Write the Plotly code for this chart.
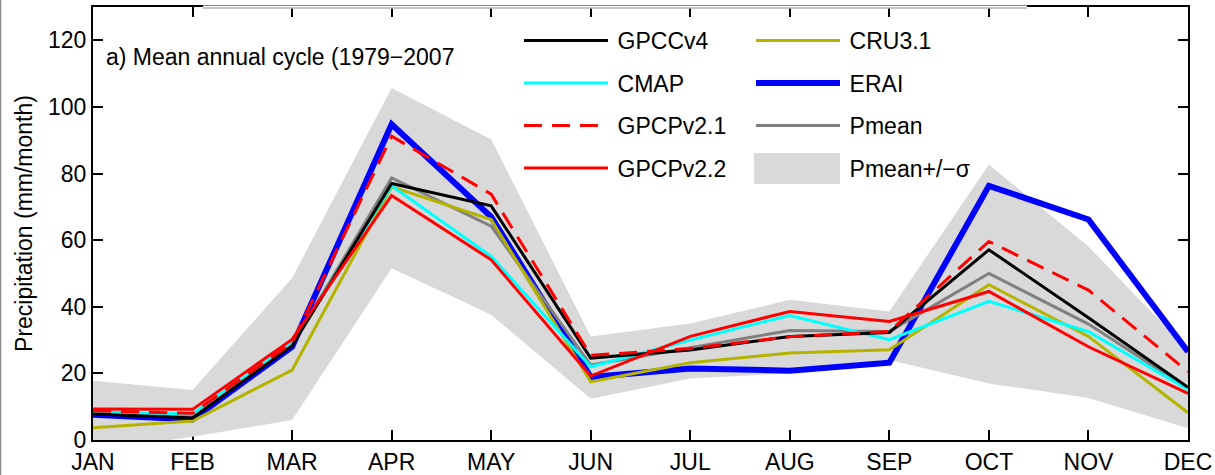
import plotly.graph_objects as go

# Monthly climatology, 1979-2007 (mm/month)
months = ["JAN", "FEB", "MAR", "APR", "MAY", "JUN",
          "JUL", "AUG", "SEP", "OCT", "NOV", "DEC"]
gpcc_v4 = [7.8, 6.6, 28.3, 77.0, 70.3, 24.6, 27.0, 31.1, 32.3, 57.1, 36.7, 15.8]
cmap = [8.3, 7.8, 29.0, 76.3, 55.1, 22.0, 30.0, 37.4, 30.1, 41.6, 32.5, 15.2]
gpcp_v21 = [8.8, 8.0, 29.2, 91.2, 73.8, 25.4, 27.5, 31.0, 32.6, 59.6, 45.0, 20.5]
gpcp_v22 = [9.3, 9.2, 30.2, 73.4, 54.1, 19.2, 31.1, 38.6, 35.6, 44.6, 28.0, 14.0]
cru_31 = [3.7, 5.7, 21.0, 76.0, 66.2, 17.5, 23.2, 26.1, 27.1, 46.6, 31.1, 8.2]
erai = [7.6, 6.2, 28.0, 94.8, 67.0, 18.9, 21.5, 20.8, 23.2, 76.3, 66.2, 26.5]
pmean = [8.5, 7.4, 28.5, 78.7, 64.2, 22.5, 27.7, 32.9, 32.6, 50.0, 34.8, 15.5]
pmean_plus_sigma = [17.8, 15.0, 48.6, 105.7, 90.2, 31.1, 35.0, 42.1, 38.6, 82.7, 58.1, 27.0]
pmean_minus_sigma = [-3.4, 1.0, 6.0, 51.6, 37.6, 12.4, 18.5, 20.0, 24.0, 17.0, 12.6, 3.5]

FONT = "Liberation Sans, Arial, Helvetica, sans-serif"
W, H = 1215, 475
ML, MR, MT, MB = 93, 27, 7, 35
PW, PH = W - ML - MR, H - MT - MB
BAND = "#d9d9d9"


def px_x(p):
    return (p - ML) / PW


def px_y(p):
    return (H - MB - p) / PH


x = list(range(1, 13))
fig = go.Figure()

# spread band: Pmean +/- one standard deviation
fig.add_trace(go.Scatter(
    x=x + x[::-1], y=pmean_plus_sigma + pmean_minus_sigma[::-1],
    fill="toself", fillcolor=BAND, line=dict(width=0, color=BAND),
    mode="lines", name="\u2009Pmean+/\u2212\u03c3", legend="legend2",
    legendgroup="g8", legendrank=8, hoverinfo="skip"))


def add_line(y, name, color, width, legend, rank, dash="solid"):
    fig.add_trace(go.Scatter(
        x=x, y=y, mode="lines", name="\u2009" + name, legend=legend,
        legendgroup="g%d" % rank, legendrank=rank,
        line=dict(color=color, width=width, dash=dash)))


add_line(erai, "ERAI", "#0000ff", 6, "legend2", 6)
add_line(pmean, "Pmean", "#808080", 3, "legend2", 7)
add_line(cru_31, "CRU3.1", "#b3b300", 3, "legend2", 5)
add_line(cmap, "CMAP", "#00ffff", 3, "legend", 2)
add_line(gpcc_v4, "GPCCv4", "#000000", 3, "legend", 1)
add_line(gpcp_v21, "GPCPv2.1", "#ff0000", 3, "legend", 3, dash="18px,10px")
add_line(gpcp_v22, "GPCPv2.2", "#ff0000", 3, "legend", 4)

legend_common = dict(
    font=dict(family=FONT, size=23, color="#000"),
    bgcolor="rgba(255,255,255,0)", borderwidth=0,
    orientation="v", traceorder="grouped", tracegroupgap=9.6,
    itemwidth=84, xanchor="left", yanchor="top", itemclick=False)

fig.update_layout(
    width=W, height=H,
    margin=dict(l=ML, r=MR, t=MT, b=MB),
    paper_bgcolor="white", plot_bgcolor="white",
    font=dict(family=FONT, size=23, color="#000"),
    showlegend=True,
    legend=dict(x=px_x(519), y=px_y(19), **legend_common),
    legend2=dict(x=px_x(751), y=px_y(19), **legend_common),
    xaxis=dict(
        range=[1, 12], tickvals=x, ticktext=months, automargin=False,
        showline=True, linecolor="#000", linewidth=2, mirror="allticks",
        ticks="inside", ticklen=10, tickwidth=1.5, tickcolor="#000",
        showgrid=False, zeroline=False, layer="below traces",
        tickfont=dict(family=FONT, size=23, color="#000")),
    yaxis=dict(
        range=[0, 130], tickvals=[0, 20, 40, 60, 80, 100, 120],
        automargin=False,
        showline=True, linecolor="#000", linewidth=2, mirror="allticks",
        ticks="inside", ticklen=10, tickwidth=1.5, tickcolor="#000",
        showgrid=False, zeroline=False, layer="below traces",
        tickfont=dict(family=FONT, size=23, color="#000"),
        title=dict(text="Precipitation (mm/month)", standoff=9,
                   font=dict(family=FONT, size=23, color="#000"))),
    annotations=[dict(
        text="a) Mean annual cycle (1979\u22122007",
        xref="paper", yref="paper", x=px_x(104), y=px_y(57),
        xanchor="left", yanchor="middle", showarrow=False,
        font=dict(family=FONT, size=23, color="#000"))],
    shapes=[
        # light frame segment along the top edge behind the legend
        dict(type="line", xref="paper", yref="paper",
             x0=px_x(203), x1=px_x(1027), y0=1, y1=1,
             line=dict(color="white", width=3), layer="above"),
        dict(type="line", xref="paper", yref="paper",
             x0=px_x(203), x1=px_x(1027), y0=px_y(8), y1=px_y(8),
             line=dict(color="#8c8c8c", width=1), layer="above"),
        # left page border
        dict(type="line", xref="paper", yref="paper",
             x0=px_x(0.5), x1=px_x(0.5), y0=px_y(0), y1=px_y(H),
             line=dict(color="#8c8c8c", width=1.5), layer="above"),
        # legend swatch for the shaded band
        dict(type="rect", xref="paper", yref="paper",
             x0=px_x(754), x1=px_x(840), y0=px_y(153), y1=px_y(184),
             fillcolor=BAND, line=dict(width=0), layer="above"),
    ],
)

fig.write_html("out.html")
